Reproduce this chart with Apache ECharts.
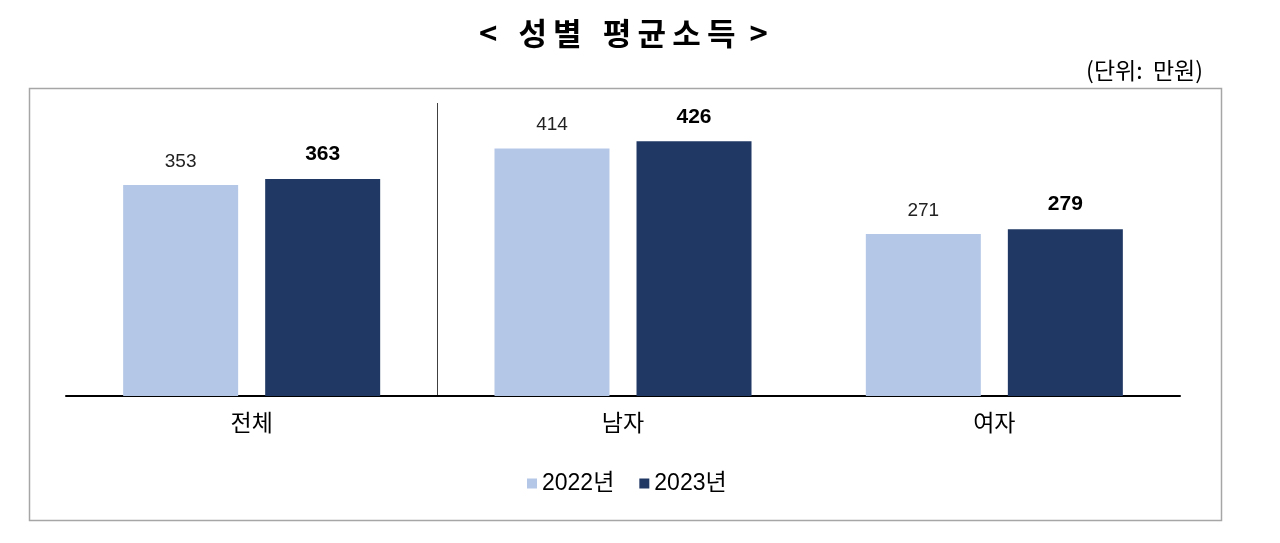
<!DOCTYPE html>
<html><head><meta charset="utf-8">
<script src="https://cdn.jsdelivr.net/npm/echarts@6/dist/echarts.min.js"></script>
<style>html,body{margin:0;padding:0;background:#fff}#c{width:1280px;height:543px}</style>
</head><body><div id="c"></div>
<script>
const categories = ['전체', '남자', '여자'];
const values2022 = [353, 414, 271];
const values2023 = [363, 426, 279];
const seriesNames = ['2022년', '2023년'];

const FONT = '"Liberation Sans", "Noto Sans CJK KR", sans-serif';
const KFONT = '"Noto Sans CJK KR", sans-serif';
const NONE = 'rgba(0,0,0,0)';
const T = '\u2009';
const chart = echarts.init(document.getElementById('c'));
chart.setOption({
  backgroundColor: '#fff',
  textStyle: { fontFamily: FONT },
  title: [
    { text: '<   성' + T + '별   평' + T + '균' + T + '소' + T + '득  >', left: 474, top: 13,
      textStyle: { fontSize: 31, fontWeight: 'bold', color: '#000', fontFamily: KFONT } },
    { text: '(단위:  만원)', right: 72, top: 54,
      textStyle: { fontSize: 23, fontWeight: 'normal', color: '#000', fontFamily: KFONT } }
  ],
  graphic: [{
    type: 'rect', left: 27, top: 86, z: -10,
    shape: { width: 1192, height: 432 },
    style: { fill: 'none', stroke: '#a6a6a6', lineWidth: 1.5 }
  }],
  legend: {
    top: 467, left: 522, itemWidth: 10, itemHeight: 10, itemGap: 25,
    icon: 'rect',
    textStyle: { fontSize: 23, color: '#000', fontFamily: FONT },
    data: seriesNames
  },
  grid: { left: 66, right: 100, top: 103, bottom: 147 },
  xAxis: {
    type: 'category', data: categories,
    axisLine: { lineStyle: { color: '#000', width: 2 } },
    axisTick: { show: false },
    axisLabel: { fontSize: 23, color: '#000', margin: 15, fontFamily: KFONT },
    splitLine: { show: true, interval: 0, lineStyle: { color: [NONE, '#404040', NONE, NONE], width: 1 } }
  },
  yAxis: { type: 'value', min: 0, max: 490, show: false, splitLine: { show: false } },
  series: [
    { name: seriesNames[0], type: 'bar', data: values2022, barWidth: 115, barGap: '23.5%',
      itemStyle: { color: '#B4C7E7' },
      label: { show: true, position: 'top', distance: 14, fontSize: 19, color: '#222', fontFamily: FONT } },
    { name: seriesNames[1], type: 'bar', data: values2023, barWidth: 115,
      itemStyle: { color: '#203864' },
      label: { show: true, position: 'top', distance: 14, fontSize: 21, fontWeight: 'bold', color: '#000', fontFamily: FONT } }
  ]
});
</script></body></html>
